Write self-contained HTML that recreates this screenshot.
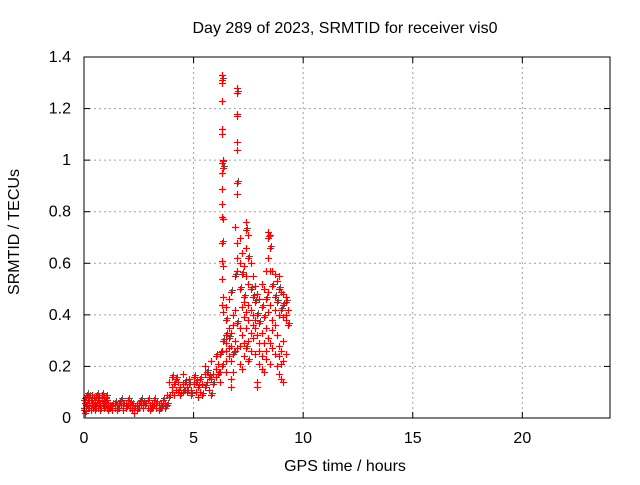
<!DOCTYPE html>
<html><head><meta charset="utf-8"><style>
body{margin:0;background:#fff}
svg text{font-family:"Liberation Sans",sans-serif;font-size:16px;fill:#000}
</style></head><body>
<svg id="chart" width="640" height="480" xmlns="http://www.w3.org/2000/svg">
<rect width="640" height="480" fill="#fff"/>
<text x="345" y="33" text-anchor="middle">Day 289 of 2023, SRMTID for receiver vis0</text>
<text transform="translate(19,232) rotate(-90)" text-anchor="middle">SRMTID / TECUs</text>
<text x="345" y="471" text-anchor="middle">GPS time / hours</text>
<g id="grid"></g>
<g id="ticks"></g>
<g id="marks"></g>
<rect x="84" y="57" width="526" height="361" fill="none" stroke="#000" stroke-width="1"/>
</svg>
<script>
const xTicks=[0,5,10,15,20];
const yTicks=[0,0.2,0.4,0.6,0.8,1,1.2,1.4];
const yTickLabels=["0","0.2","0.4","0.6","0.8","1","1.2","1.4"];
const groupHours=[0,0.05,0.1,0.15,0.2,0.25,0.3,0.35,0.4,0.45,0.5,0.55,0.6,0.65,0.7,0.75,0.8,0.85,0.9,0.95,1.0,1.05,1.1,1.2,1.3,1.4,1.5,1.6,1.7,1.8,1.9,2.0,2.1,2.2,2.3,2.4,2.5,2.6,2.7,2.8,2.9,3.0,3.1,3.2,3.3,3.4,3.5,3.6,3.7,3.8,3.9,4.0,4.1,4.2,4.3,4.4,4.5,4.6,4.7,4.8,4.9,5.0,5.1,5.2,5.3,5.4,5.5,5.6,5.7,5.8,5.9,6.0,6.1,6.2,6.3,6.35,6.5,6.6,6.7,6.8,6.9,7.0,7.1,7.2,7.3,7.4,7.5,7.6,7.7,7.8,7.9,8.0,8.1,8.2,8.3,8.4,8.5,8.6,8.7,8.8,8.9,9.0,9.1,9.2,9.3];
const groupValues=[[0.04,0.07,0.03],[0.06,0.02],[0.08,0.05],[0.05,0.09],[0.07,0.04],[0.06,0.08],[0.03,0.07],[0.09,0.05],[0.06,0.04],[0.08,0.05],[0.07,0.03],[0.05,0.08],[0.06,0.09],[0.04,0.07],[0.08,0.05],[0.06,0.03],[0.07,0.09],[0.05,0.06],[0.08,0.04],[0.06,0.07],[0.05,0.08],[0.07,0.04],[0.06,0.03],[0.05,0.04],[0.03,0.05],[0.04,0.06],[0.05,0.03],[0.04,0.06],[0.05,0.07],[0.03,0.05],[0.06,0.04],[0.05,0.07],[0.04,0.06],[0.03,0.05],[0.02,0.04],[0.05,0.03],[0.04,0.06],[0.05,0.07],[0.04,0.06],[0.06,0.05],[0.04,0.07],[0.05,0.03],[0.06,0.04],[0.05,0.07],[0.04,0.06],[0.05,0.03],[0.06,0.04],[0.05,0.07],[0.06,0.04],[0.09,0.05],[0.14,0.08],[0.12,0.16,0.1],[0.09,0.13],[0.11,0.15],[0.14,0.1],[0.12,0.09],[0.13,0.1,0.17],[0.11,0.14],[0.12,0.1],[0.15,0.13],[0.11,0.09],[0.13,0.16],[0.10,0.14],[0.08,0.12],[0.10,0.15],[0.13,0.09],[0.17,0.12,0.2],[0.14,0.18],[0.11,0.16],[0.15,0.09,0.22],[0.17,0.13],[0.19,0.24,0.16],[0.21,0.17],[0.18,0.25,0.14],[1.33,1.31,1.30,1.23,1.10,1.12,0.99,0.95,0.89,0.83,0.78,0.68,0.61,0.54,0.44,0.26,0.2],[1.0,0.97,0.77,0.59,0.47,0.41,0.3],[0.43,0.38,0.29,0.26,0.22,0.18,0.32],[0.46,0.31,0.27,0.35,0.24],[0.28,0.49,0.33,0.22,0.15,0.12],[0.36,0.25,0.40,0.18],[0.74,0.55,0.30,0.42,0.26],[1.28,1.26,1.18,1.17,1.07,1.04,0.91,0.87,0.68,0.62,0.57,0.37,0.27],[0.70,0.50,0.60,0.35,0.28,0.21],[0.64,0.56,0.43,0.32,0.19],[0.59,0.47,0.39,0.29,0.24,0.45],[0.76,0.73,0.66,0.55,0.41,0.35,0.27],[0.71,0.62,0.52,0.44,0.38,0.30,0.22],[0.60,0.50,0.33,0.42,0.26],[0.55,0.47,0.40,0.36,0.31],[0.51,0.45,0.35,0.25,0.38],[0.48,0.40,0.32,0.14,0.12],[0.46,0.37,0.29,0.26,0.21],[0.52,0.43,0.33,0.24,0.19],[0.50,0.39,0.29,0.18],[0.57,0.46,0.35,0.26,0.23],[0.72,0.70,0.62,0.49,0.41,0.31],[0.71,0.66,0.57,0.44,0.29,0.21],[0.57,0.51,0.38,0.34,0.27],[0.56,0.47,0.42,0.36,0.25],[0.53,0.45,0.32,0.20],[0.55,0.50,0.40,0.28,0.24,0.17],[0.49,0.42,0.26,0.21,0.15],[0.48,0.44,0.39,0.30,0.22,0.14],[0.47,0.45,0.38,0.40,0.25],[0.42,0.36]];

const X0=84,X1=610,Y0=418,Y1=57;
const xs=h=>X0+h/24*(X1-X0);
const ys=v=>Y0-v/1.4*(Y0-Y1);
const NS="http://www.w3.org/2000/svg";
function mk(tag,attrs,parent){const e=document.createElementNS(NS,tag);for(const k in attrs)e.setAttribute(k,attrs[k]);parent.appendChild(e);return e;}
const grid=document.getElementById('grid'),ticks=document.getElementById('ticks'),marks=document.getElementById('marks');
xTicks.forEach(t=>{
  const x=xs(t);
  if(t>0){const g=mk('line',{x1:x,x2:x,y1:Y1,y2:Y0,stroke:'#a0a0a0','stroke-dasharray':'2,3'},grid);
  
  }
  mk('line',{x1:x,x2:x,y1:Y0,y2:Y0-6,stroke:'#000'},ticks);
  mk('line',{x1:x,x2:x,y1:Y1,y2:Y1+6,stroke:'#000'},ticks);
  const tx=mk('text',{x:x,y:443,'text-anchor':'middle'},ticks);tx.textContent=t;
  
  
});
yTicks.forEach((t,i)=>{
  const y=ys(t);
  if(i>0&&i<yTicks.length-1){const g=mk('line',{x1:X0,x2:X1,y1:y,y2:y,stroke:'#a0a0a0','stroke-dasharray':'2,3'},grid);
  
  }
  mk('line',{x1:X0,x2:X0+6,y1:y,y2:y,stroke:'#000'},ticks);
  mk('line',{x1:X1,x2:X1-6,y1:y,y2:y,stroke:'#000'},ticks);
  const tx=mk('text',{x:71,y:y+5,'text-anchor':'end'},ticks);tx.textContent=yTickLabels[i];
  
  
});
groupHours.forEach((h,gi)=>{
  groupValues[gi].forEach((v,j)=>{
    const x=Math.round(xs(h))+0.5,y=Math.round(ys(v))+0.5;
    if(j%5===1){const b=mk('path',{d:`M${x-2.5} ${y-2}h7M${x+1} ${y-5.5}v7`,stroke:'#555','stroke-width':1,fill:'none'},marks);
    
    }
  });
});
groupHours.forEach((h,gi)=>{
  groupValues[gi].forEach((v,j)=>{
    const x=Math.round(xs(h))+0.5,y=Math.round(ys(v))+0.5;
    const p=mk('path',{d:`M${x-3.5} ${y}h7M${x} ${y-3.5}v7`,stroke:'#f00','stroke-width':1.2,fill:'none'},marks);
    
    
  });
});
</script>
</body></html>
